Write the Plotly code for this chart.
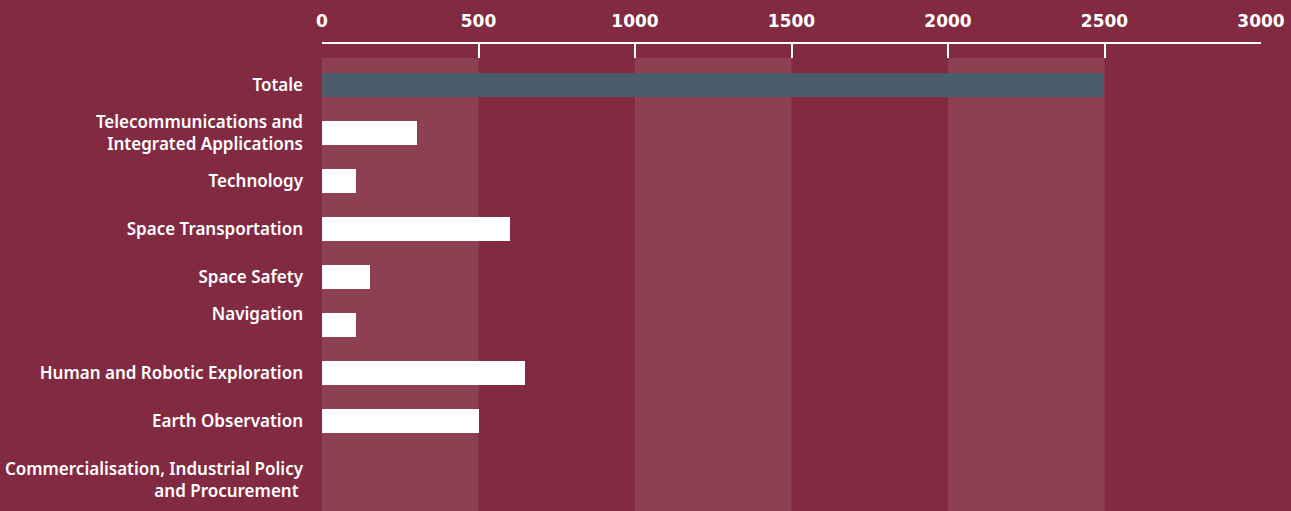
import plotly.graph_objects as go

categories = [
    "Totale",
    "Telecommunications and<br>Integrated Applications",
    "Technology",
    "Space Transportation",
    "Space Safety",
    "Navigation<br> ",
    "Human and Robotic Exploration",
    "Earth Observation",
    " <br>Commercialisation, Industrial Policy<br>and Procurement ",
]
values = [2495, 303, 108, 600, 153, 108, 648, 500, 0]
tick_vals = [0, 500, 1000, 1500, 2000, 2500, 3000]
band_ranges = [(0, 500), (1000, 1500), (2000, 2500)]

BG = "#832a43"
BAND = "#8e4053"
TOT = "#4b5d6a"

colors = [TOT] + ["#ffffff"] * (len(categories) - 1)
ypos = list(range(len(categories)))

fig = go.Figure()
fig.add_trace(go.Bar(
    x=values, y=ypos, orientation="h",
    marker=dict(color=colors, line=dict(width=0)),
    width=0.52, hoverinfo="x",
))

for a, b in band_ranges:
    fig.add_shape(type="rect", xref="x", yref="paper", x0=a, x1=b, y0=0, y1=0.97,
                  fillcolor=BAND, line=dict(width=0), layer="below")

fig.update_layout(
    width=1291, height=511,
    margin=dict(l=322, r=30, t=44, b=0),
    paper_bgcolor=BG, plot_bgcolor=BG,
    showlegend=False,
    bargap=0,
    font=dict(family="Noto Sans", color="white"),
    xaxis=dict(
        side="top", range=[0, 3000], tickvals=tick_vals,
        showgrid=False, zeroline=False,
        showline=True, linecolor="white", linewidth=1.5,
        ticks="inside", ticklen=14, tickcolor="white", tickwidth=1.5,
        tickfont=dict(family="DejaVu Sans", size=17, color="white", weight="bold"),
        ticklabelstandoff=8,
        fixedrange=True,
    ),
    yaxis=dict(
        range=[8.875, -0.854],
        tickvals=ypos, ticktext=categories,
        showgrid=False, zeroline=False, showline=False,
        ticks="", ticklabelstandoff=18,
        tickfont=dict(family="Noto Sans", size=17, color="white", weight=600),
        fixedrange=True,
    ),
)

fig.write_html("out.html")
